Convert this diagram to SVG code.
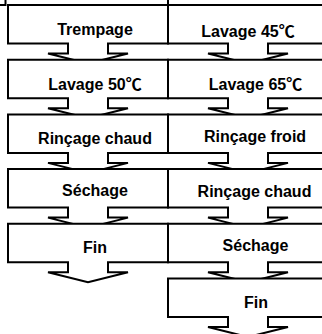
<svg xmlns="http://www.w3.org/2000/svg" width="322" height="334" viewBox="0 0 322 334">
<style>
.box{fill:#fff;stroke:#000;stroke-width:2;stroke-linejoin:miter}
.lbl{font-family:"Liberation Sans",Arial,"Noto Sans CJK SC",sans-serif;font-weight:bold;font-size:16px;fill:#000;text-anchor:middle}
.edge{fill:none;stroke:#000;stroke-width:2}
</style>
<defs>
<path id="shape" d="M0,0 H160 V38.5 H100 V48.5 H120 L80,58.5 L40,48.5 H60 V38.5 H0 Z"/>
</defs>
<g id="frame">
<path class="edge" d="M0,5 H5.5 V0"/>
<path class="edge" d="M168,0 V5"/>
</g>
<g id="n-trempage"><use href="#shape" class="box" x="8" y="5"/><text class="lbl" x="95" y="35">Trempage</text></g>
<g id="n-lavage50"><use href="#shape" class="box" x="8" y="59.7"/><text class="lbl" x="95" y="90">Lavage 50℃</text></g>
<g id="n-rincage-chaud-1"><use href="#shape" class="box" x="8" y="114.4"/><text class="lbl" x="95" y="143.5">Rinçage chaud</text></g>
<g id="n-sechage-1"><use href="#shape" class="box" x="8" y="169.1"/><text class="lbl" x="95" y="196">Séchage</text></g>
<g id="n-fin-1"><use href="#shape" class="box" x="8" y="223.8"/><text class="lbl" x="95" y="253">Fin</text></g>
<g id="n-lavage45"><use href="#shape" class="box" x="168" y="5"/><text class="lbl" x="248" y="36.5">Lavage 45℃</text></g>
<g id="n-lavage65"><use href="#shape" class="box" x="168" y="59.7"/><text class="lbl" x="255.5" y="90">Lavage 65℃</text></g>
<g id="n-rincage-froid"><use href="#shape" class="box" x="168" y="114.4"/><text class="lbl" x="255" y="142">Rinçage froid</text></g>
<g id="n-rincage-chaud-2"><use href="#shape" class="box" x="168" y="169.1"/><text class="lbl" x="254.5" y="197">Rinçage chaud</text></g>
<g id="n-sechage-2"><use href="#shape" class="box" x="168" y="223.8"/><text class="lbl" x="255.5" y="251">Séchage</text></g>
<g id="n-fin-2"><use href="#shape" class="box" x="168" y="278.5"/><text class="lbl" x="256" y="308">Fin</text></g>
</svg>
